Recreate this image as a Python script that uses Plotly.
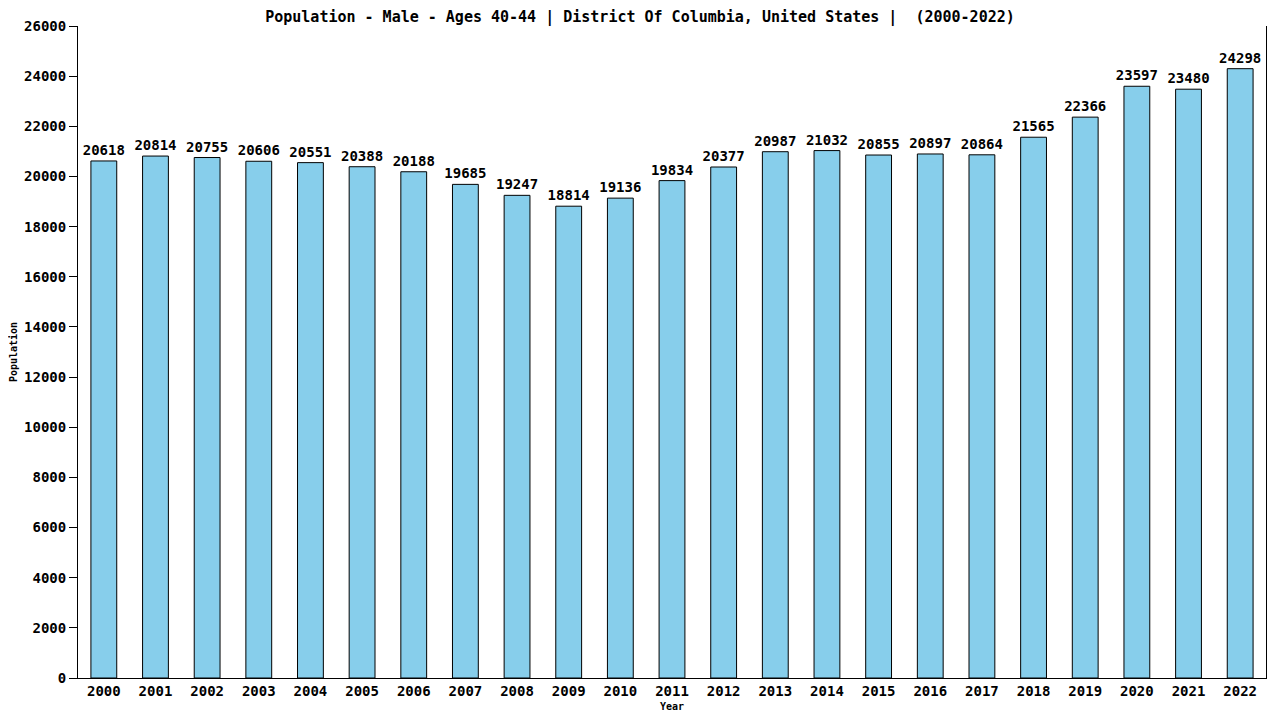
import plotly.graph_objects as go

# dati
years = [str(y) for y in range(2000, 2023)]
population = [20618, 20814, 20755, 20606, 20551, 20388, 20188, 19685, 19247, 18814,
              19136, 19834, 20377, 20987, 21032, 20855, 20897, 20864, 21565, 22366,
              23597, 23480, 24298]
y_ticks = list(range(0, 26001, 2000))
y_tick_labels = [str(v) for v in y_ticks]

FONT = 'DejaVu Sans Mono'

fig = go.Figure()
fig.add_trace(go.Bar(
    x=years,
    y=population,
    marker=dict(color='#87ceeb', line=dict(color='black', width=1)),
    text=[str(v) for v in population],
    textposition='outside',
    constraintext='none',
    textfont=dict(family=FONT, size=14, color='black', weight='bold'),
    cliponaxis=False,
))

fig.update_layout(
    title=dict(
        text='Population - Male - Ages 40-44 | District Of Columbia, United States |  (2000-2022)',
        x=0.5, xanchor='center', y=0.995, yanchor='top',
        font=dict(family=FONT, size=15, color='black', weight='bold'),
        pad=dict(t=0, b=0),
    ),
    # la pagina ha 8px di margine: figura 1264x704
    width=1264, height=704,
    margin=dict(l=70, r=6, t=18, b=34, autoexpand=False),
    plot_bgcolor='white',
    paper_bgcolor='white',
    bargap=0.5,
    showlegend=False,
    xaxis=dict(
        title=dict(text='Year', font=dict(family=FONT, size=10, color='black', weight='bold'), standoff=8),
        tickfont=dict(family=FONT, size=14, color='black', weight='bold'),
        showline=True, linecolor='black', linewidth=1,
        ticks='', showgrid=False, automargin=False,
    ),
    yaxis=dict(
        title=dict(text='Population', font=dict(family=FONT, size=10, color='black', weight='bold'), standoff=13),
        range=[0, 26000],
        tickvals=y_ticks,
        ticktext=y_tick_labels,
        tickfont=dict(family=FONT, size=14, color='black', weight='bold'),
        showline=True, linecolor='black', linewidth=1, mirror=True,
        ticks='outside', ticklen=8, tickcolor='black',
        showgrid=False, zeroline=False, automargin=False,
    ),
)

fig.write_html('out.html')
